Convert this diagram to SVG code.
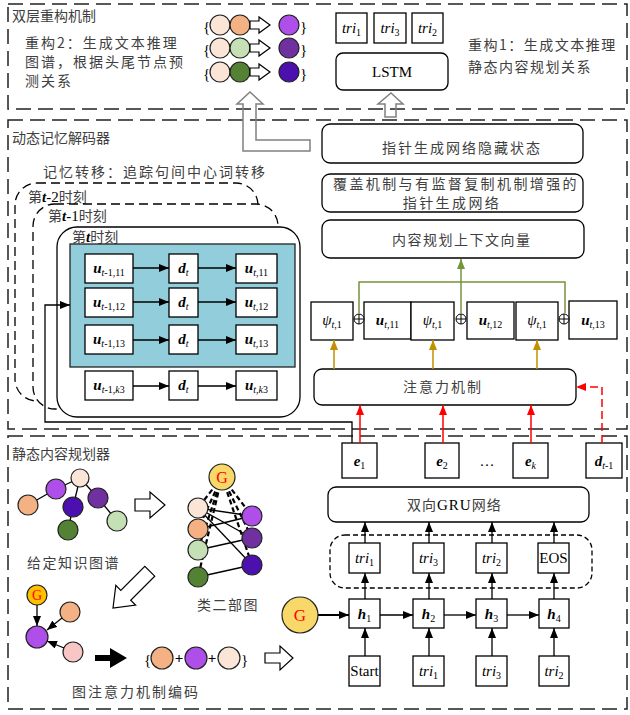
<svg xmlns="http://www.w3.org/2000/svg" width="630" height="715" viewBox="0 0 630 715">
<defs>
<style>
.sec{fill:none;stroke:#222;stroke-width:1.5;stroke-dasharray:15 7}
.box{fill:#fff;stroke:#000;stroke-width:1.3}
.cn{font-family:"Noto Sans CJK SC","Noto Sans",sans-serif;font-size:14px;fill:#404040}
.m{font-family:"Liberation Serif",serif;font-size:15px;fill:#000}
.bi{font-weight:bold;font-style:italic}
.i{font-style:italic}
.sub{font-size:10px}
.nd{stroke:#222;stroke-width:1.2}
.ln{stroke:#000;stroke-width:1.3;fill:none}
.hol{fill:#fff;stroke:#000;stroke-width:1.2}
.gray{fill:none;stroke:#808080;stroke-width:1.5}
.gold{stroke:#BF9000;stroke-width:1.5;fill:none}
.red{stroke:#FF0000;stroke-width:1.5;fill:none}
.grn{stroke:#77933C;stroke-width:1.5;fill:none}
.gtxt{font-family:"Liberation Serif",serif;fill:#FF0000}
</style>
<marker id="ab" viewBox="0 0 10 8" refX="10" refY="4" markerWidth="10" markerHeight="8" markerUnits="userSpaceOnUse" orient="auto"><path d="M0,0 L10,4 L0,8 z" fill="#000"/></marker>
<marker id="ag" viewBox="0 0 10 8" refX="10" refY="4" markerWidth="10" markerHeight="8" markerUnits="userSpaceOnUse" orient="auto"><path d="M0,0 L10,4 L0,8 z" fill="#BF9000"/></marker>
<marker id="ar" viewBox="0 0 10 8" refX="10" refY="4" markerWidth="10" markerHeight="8" markerUnits="userSpaceOnUse" orient="auto"><path d="M0,0 L10,4 L0,8 z" fill="#FF0000"/></marker>
<marker id="agr" viewBox="0 0 10 8" refX="10" refY="4" markerWidth="10" markerHeight="8" markerUnits="userSpaceOnUse" orient="auto"><path d="M0,0 L10,4 L0,8 z" fill="#77933C"/></marker>
</defs>
<rect width="630" height="715" fill="#fff"/>

<!-- sections -->
<g id="sections">
<rect class="sec" x="8" y="4" width="619" height="105"/>
<rect class="sec" x="8" y="120" width="619" height="309"/>
<rect class="sec" x="8" y="436" width="619" height="273"/>
<text class="cn" x="12" y="21" font-size="15">双层重构机制</text>
<text class="cn" x="12" y="143" font-size="15">动态记忆解码器</text>
<text class="cn" x="12" y="459" font-size="15">静态内容规划器</text>
</g>

<!-- top section -->
<g id="recon2-text">
<text class="cn" x="25" y="48" letter-spacing="2">重构2：生成文本推理</text>
<text class="cn" x="25" y="67" letter-spacing="2">图谱，根据头尾节点预</text>
<text class="cn" x="25" y="86" letter-spacing="2">测关系</text>
</g>
<g id="recon2-circles">
<text class="m" x="203" y="32" font-size="21">{</text>
<circle class="nd" cx="220" cy="25" r="10" fill="#FBE5D6"/>
<circle class="nd" cx="240" cy="25" r="10" fill="#F4B183"/>
<polygon class="hol" points="250,21 259,21 259,17 270,25 259,33 259,29 250,29"/>
<circle class="nd" cx="289" cy="25" r="10" fill="#AD4FE8"/>
<text class="m" x="300" y="32" font-size="21">}</text>
<text class="m" x="203" y="55" font-size="21">{</text>
<circle class="nd" cx="220" cy="48" r="10" fill="#FBE5D6"/>
<circle class="nd" cx="240" cy="48" r="10" fill="#C5E0B4"/>
<polygon class="hol" points="250,44 259,44 259,40 270,48 259,56 259,52 250,52"/>
<circle class="nd" cx="289" cy="48" r="10" fill="#7030A0"/>
<text class="m" x="300" y="55" font-size="21">}</text>
<text class="m" x="203" y="79" font-size="21">{</text>
<circle class="nd" cx="220" cy="72" r="10" fill="#FBE5D6"/>
<circle class="nd" cx="240" cy="72" r="10" fill="#548235"/>
<polygon class="hol" points="250,68 259,68 259,64 270,72 259,80 259,76 250,76"/>
<circle class="nd" cx="289" cy="72" r="10" fill="#4B10AE"/>
<text class="m" x="300" y="79" font-size="21">}</text>
</g>
<g id="top-tri">
<rect class="box" x="336" y="13" width="31" height="30"/>
<text class="m" x="351.5" y="33" text-anchor="middle"><tspan class="i">tri</tspan><tspan class="sub" dy="3">1</tspan></text>
<rect class="box" x="374" y="13" width="32" height="30"/>
<text class="m" x="390" y="33" text-anchor="middle"><tspan class="i">tri</tspan><tspan class="sub" dy="3">3</tspan></text>
<rect class="box" x="412" y="13" width="31" height="30"/>
<text class="m" x="427.5" y="33" text-anchor="middle"><tspan class="i">tri</tspan><tspan class="sub" dy="3">2</tspan></text>
</g>
<g id="lstm">
<rect class="box" x="336" y="53" width="112" height="37" rx="7"/>
<text class="m" x="392" y="77" text-anchor="middle" font-size="15">LSTM</text>
</g>
<g id="recon1-text">
<text class="cn" x="468" y="50" letter-spacing="1.5">重构1：生成文本推理</text>
<text class="cn" x="468" y="72" letter-spacing="1.5">静态内容规划关系</text>
</g>

<!-- middle section left -->
<g id="memory-label">
<text class="cn" x="43" y="177" letter-spacing="2">记忆转移：追踪句间中心词转移</text>
</g>
<g id="step-t2">
<rect x="15" y="183" width="243" height="218" rx="22" fill="#fff" stroke="#000" stroke-width="1.3" stroke-dasharray="9 5"/>
<text class="cn" x="28" y="202" font-size="13" fill="#000">第<tspan class="m bi" font-size="14">t</tspan><tspan class="m" font-size="14">-2</tspan>时刻</text>
</g>
<g id="step-t1">
<rect x="33" y="204" width="245" height="205" rx="22" fill="#fff" stroke="#000" stroke-width="1.3" stroke-dasharray="9 5"/>
<text class="cn" x="48" y="221" font-size="13" fill="#000">第<tspan class="m bi" font-size="14">t</tspan><tspan class="m" font-size="14">-1</tspan>时刻</text>
</g>
<g id="step-t">
<rect x="57" y="227" width="243" height="190" rx="20" fill="#fff" stroke="#000" stroke-width="1.3"/>
<text class="cn" x="72" y="242" font-size="13" fill="#000">第<tspan class="m bi" font-size="14">t</tspan>时刻</text>
<rect x="70" y="244" width="225" height="123" fill="#92CDDC" stroke="#222" stroke-width="1.3"/>
</g>
<g id="mem-rows">
<rect class="box" x="85" y="254" width="48" height="29"/>
<text class="m" x="109" y="273" text-anchor="middle"><tspan class="bi">u</tspan><tspan class="sub" dy="3"><tspan class="i">t</tspan>-1,11</tspan></text>
<rect class="box" x="169" y="254" width="29" height="29"/>
<text class="m" x="183.5" y="273" text-anchor="middle"><tspan class="bi">d</tspan><tspan class="sub i" dy="3">t</tspan></text>
<rect class="box" x="236" y="254" width="41" height="29"/>
<text class="m" x="256.5" y="273" text-anchor="middle"><tspan class="bi">u</tspan><tspan class="sub" dy="3"><tspan class="i">t</tspan>,11</tspan></text>

<rect class="box" x="85" y="288" width="48" height="29"/>
<text class="m" x="109" y="307" text-anchor="middle"><tspan class="bi">u</tspan><tspan class="sub" dy="3"><tspan class="i">t</tspan>-1,12</tspan></text>
<rect class="box" x="169" y="288" width="29" height="29"/>
<text class="m" x="183.5" y="307" text-anchor="middle"><tspan class="bi">d</tspan><tspan class="sub i" dy="3">t</tspan></text>
<rect class="box" x="236" y="288" width="41" height="29"/>
<text class="m" x="256.5" y="307" text-anchor="middle"><tspan class="bi">u</tspan><tspan class="sub" dy="3"><tspan class="i">t</tspan>,12</tspan></text>

<rect class="box" x="85" y="325" width="48" height="29"/>
<text class="m" x="109" y="344" text-anchor="middle"><tspan class="bi">u</tspan><tspan class="sub" dy="3"><tspan class="i">t</tspan>-1,13</tspan></text>
<rect class="box" x="169" y="325" width="29" height="29"/>
<text class="m" x="183.5" y="344" text-anchor="middle"><tspan class="bi">d</tspan><tspan class="sub i" dy="3">t</tspan></text>
<rect class="box" x="236" y="325" width="41" height="29"/>
<text class="m" x="256.5" y="344" text-anchor="middle"><tspan class="bi">u</tspan><tspan class="sub" dy="3"><tspan class="i">t</tspan>,13</tspan></text>

<rect class="box" x="85" y="371" width="48" height="29"/>
<text class="m" x="109" y="390" text-anchor="middle"><tspan class="bi">u</tspan><tspan class="sub" dy="3"><tspan class="i">t</tspan>-1,<tspan class="i">k</tspan>3</tspan></text>
<rect class="box" x="169" y="371" width="29" height="29"/>
<text class="m" x="183.5" y="390" text-anchor="middle"><tspan class="bi">d</tspan><tspan class="sub i" dy="3">t</tspan></text>
<rect class="box" x="236" y="371" width="41" height="29"/>
<text class="m" x="256.5" y="390" text-anchor="middle"><tspan class="bi">u</tspan><tspan class="sub" dy="3"><tspan class="i">t</tspan>,<tspan class="i">k</tspan>3</tspan></text>
</g>

<!-- middle section right -->
<g id="ptr-hidden">
<rect class="box" x="322" y="124" width="261" height="39" rx="8"/>
<text class="cn" x="382" y="153" letter-spacing="2">指针生成网络隐藏状态</text>
</g>
<g id="ptr-net">
<rect class="box" x="322" y="174" width="261" height="38" rx="8"/>
<text class="cn" x="333" y="189" font-size="13.5" letter-spacing="2.4">覆盖机制与有监督复制机制增强的</text>
<text class="cn" x="452" y="208" font-size="13.5" letter-spacing="2.4" text-anchor="middle">指针生成网络</text>
</g>
<g id="ctx-vec">
<rect class="box" x="322" y="220" width="262" height="38" rx="8"/>
<text class="cn" x="392" y="245" letter-spacing="1.5">内容规划上下文向量</text>
</g>
<g id="psi-row">
<rect class="box" x="311" y="302" width="42" height="38"/>
<text class="m" x="332" y="325" text-anchor="middle"><tspan class="i">ψ</tspan><tspan class="sub" dy="3"><tspan class="i">t</tspan>,1</tspan></text>
<rect class="box" x="364" y="302" width="47" height="37"/>
<text class="m" x="387.5" y="325" text-anchor="middle"><tspan class="bi">u</tspan><tspan class="sub" dy="3"><tspan class="i">t</tspan>,11</tspan></text>
<rect class="box" x="411" y="302" width="43" height="38"/>
<text class="m" x="432.5" y="325" text-anchor="middle"><tspan class="i">ψ</tspan><tspan class="sub" dy="3"><tspan class="i">t</tspan>,1</tspan></text>
<rect class="box" x="467" y="302" width="47" height="37"/>
<text class="m" x="490.5" y="325" text-anchor="middle"><tspan class="bi">u</tspan><tspan class="sub" dy="3"><tspan class="i">t</tspan>,12</tspan></text>
<rect class="box" x="516" y="302" width="42" height="38"/>
<text class="m" x="537" y="325" text-anchor="middle"><tspan class="i">ψ</tspan><tspan class="sub" dy="3"><tspan class="i">t</tspan>,1</tspan></text>
<rect class="box" x="569" y="301" width="48" height="38"/>
<text class="m" x="593" y="325" text-anchor="middle"><tspan class="bi">u</tspan><tspan class="sub" dy="3"><tspan class="i">t</tspan>,13</tspan></text>
</g>
<g id="attn">
<rect class="box" x="314" y="369" width="262" height="36" rx="8"/>
<text class="cn" x="403" y="392" letter-spacing="2">注意力机制</text>
</g>
<g id="e-boxes">
<rect class="box" x="342" y="443" width="35" height="35"/>
<text class="m" x="359.5" y="466" text-anchor="middle"><tspan class="bi">e</tspan><tspan class="sub" dy="3">1</tspan></text>
<rect class="box" x="425" y="443" width="34" height="35"/>
<text class="m" x="442" y="466" text-anchor="middle"><tspan class="bi">e</tspan><tspan class="sub" dy="3">2</tspan></text>
<text class="m" x="487" y="466" text-anchor="middle" font-size="13">…</text>
<rect class="box" x="513" y="443" width="35" height="35"/>
<text class="m" x="530.5" y="466" text-anchor="middle"><tspan class="bi">e</tspan><tspan class="sub i" dy="3">k</tspan></text>
<rect class="box" x="586" y="443" width="36" height="35"/>
<text class="m" x="604" y="466" text-anchor="middle"><tspan class="bi">d</tspan><tspan class="sub" dy="3"><tspan class="i">t</tspan>-1</tspan></text>
</g>

<!-- bottom section -->
<g id="kg">
<line class="ln" x1="80" y1="478" x2="56" y2="489"/>
<line class="ln" x1="80" y1="478" x2="73" y2="507"/>
<line class="ln" x1="80" y1="478" x2="98" y2="498"/>
<line class="ln" x1="56" y1="489" x2="28" y2="505"/>
<line class="ln" x1="73" y1="507" x2="68" y2="530"/>
<line class="ln" x1="98" y1="498" x2="117" y2="521"/>
<circle class="nd" cx="80" cy="478" r="9" fill="#FBE5D6"/>
<circle class="nd" cx="56" cy="489" r="10" fill="#AD4FE8"/>
<circle class="nd" cx="28" cy="505" r="10" fill="#F4B183"/>
<circle class="nd" cx="73" cy="507" r="10" fill="#4B10AE"/>
<circle class="nd" cx="98" cy="498" r="10" fill="#7030A0"/>
<circle class="nd" cx="117" cy="521" r="10" fill="#C5E0B4"/>
<circle class="nd" cx="68" cy="530" r="10" fill="#548235"/>
<text class="cn" x="27" y="568" letter-spacing="1.5">给定知识图谱</text>
</g>
<g id="bipartite">
<g stroke="#000" stroke-width="2.2" stroke-dasharray="5 3">
<line x1="222" y1="477" x2="198" y2="508"/>
<line x1="222" y1="477" x2="198" y2="529"/>
<line x1="222" y1="477" x2="198" y2="550"/>
<line x1="222" y1="477" x2="198" y2="577"/>
<line x1="222" y1="477" x2="252" y2="516"/>
<line x1="222" y1="477" x2="252" y2="538"/>
<line x1="222" y1="477" x2="252" y2="565"/>
</g>
<line class="ln" x1="198" y1="508" x2="252" y2="516" stroke-width="1"/>
<line class="ln" x1="198" y1="508" x2="252" y2="538" stroke-width="1"/>
<line class="ln" x1="198" y1="508" x2="252" y2="565" stroke-width="1"/>
<line class="ln" x1="198" y1="529" x2="252" y2="516" stroke-width="1"/>
<line class="ln" x1="198" y1="550" x2="252" y2="538" stroke-width="1"/>
<line class="ln" x1="198" y1="577" x2="252" y2="565" stroke-width="1"/>
<circle class="nd" cx="198" cy="508" r="10" fill="#FBE5D6"/>
<circle class="nd" cx="198" cy="529" r="10" fill="#F4B183"/>
<circle class="nd" cx="198" cy="550" r="10" fill="#C5E0B4"/>
<circle class="nd" cx="198" cy="577" r="10" fill="#548235"/>
<circle class="nd" cx="252" cy="516" r="10" fill="#AD4FE8"/>
<circle class="nd" cx="252" cy="538" r="10" fill="#7030A0"/>
<circle class="nd" cx="252" cy="565" r="10" fill="#4B10AE"/>
<circle class="nd" cx="222" cy="477" r="13" fill="#F9D86A"/>
<text class="gtxt" x="222" y="483" text-anchor="middle" font-size="16">G</text>
<text class="cn" x="197" y="610" letter-spacing="1.5">类二部图</text>
</g>
<g id="gat">
<circle class="nd" cx="37" cy="595" r="10" fill="#FFC000"/>
<text class="gtxt" x="37" y="600" text-anchor="middle" font-size="14">G</text>
<circle class="nd" cx="70" cy="612" r="10" fill="#F4B183"/>
<circle class="nd" cx="37" cy="637" r="11" fill="#AD4FE8"/>
<circle class="nd" cx="73" cy="652" r="10" fill="#F9C6C6"/>
<text class="m" x="144" y="665" font-size="21">{</text>
<circle class="nd" cx="162" cy="658" r="11" fill="#F4B183"/>
<text class="m" x="179" y="663" font-size="15" font-weight="bold" text-anchor="middle">+</text>
<circle class="nd" cx="196" cy="658" r="11" fill="#AD4FE8"/>
<text class="m" x="212" y="663" font-size="15" font-weight="bold" text-anchor="middle">+</text>
<circle class="nd" cx="229" cy="658" r="11" fill="#FBE5D6"/>
<text class="m" x="241" y="665" font-size="21">}</text>
<text class="cn" x="72" y="697" letter-spacing="2">图注意力机制编码</text>
</g>
<g id="gru">
<rect class="box" x="328" y="487" width="261" height="35" rx="8"/>
<text class="cn" x="407" y="510" letter-spacing="1">双向<tspan class="m" font-size="15">GRU</tspan>网络</text>
<rect x="330" y="535" width="262" height="53" rx="15" fill="none" stroke="#000" stroke-width="1.3" stroke-dasharray="5 3"/>
</g>
<g id="tri-seq">
<rect class="box" x="349" y="543" width="31" height="30"/>
<text class="m" x="364.5" y="563" text-anchor="middle"><tspan class="i">tri</tspan><tspan class="sub" dy="3">1</tspan></text>
<rect class="box" x="413" y="543" width="31" height="30"/>
<text class="m" x="428.5" y="563" text-anchor="middle"><tspan class="i">tri</tspan><tspan class="sub" dy="3">3</tspan></text>
<rect class="box" x="476" y="543" width="31" height="30"/>
<text class="m" x="491.5" y="563" text-anchor="middle"><tspan class="i">tri</tspan><tspan class="sub" dy="3">2</tspan></text>
<rect class="box" x="538" y="543" width="31" height="30"/>
<text class="m" x="553.5" y="563" text-anchor="middle" font-size="14">EOS</text>
</g>
<g id="h-seq">
<circle class="nd" cx="300" cy="615" r="18" fill="#F9D86A"/>
<text class="gtxt" x="300" y="621" text-anchor="middle" font-size="17">G</text>
<rect class="box" x="349" y="599" width="31" height="29"/>
<text class="m" x="364.5" y="619" text-anchor="middle"><tspan class="bi">h</tspan><tspan class="sub" dy="3">1</tspan></text>
<rect class="box" x="413" y="599" width="31" height="29"/>
<text class="m" x="428.5" y="619" text-anchor="middle"><tspan class="bi">h</tspan><tspan class="sub" dy="3">2</tspan></text>
<rect class="box" x="476" y="599" width="31" height="29"/>
<text class="m" x="491.5" y="619" text-anchor="middle"><tspan class="bi">h</tspan><tspan class="sub" dy="3">3</tspan></text>
<rect class="box" x="539" y="599" width="30" height="29"/>
<text class="m" x="554" y="619" text-anchor="middle"><tspan class="bi">h</tspan><tspan class="sub" dy="3">4</tspan></text>
</g>
<g id="input-seq">
<rect class="box" x="349" y="656" width="31" height="30"/>
<text class="m" x="364.5" y="676" text-anchor="middle" font-size="14">Start</text>
<rect class="box" x="413" y="656" width="31" height="30"/>
<text class="m" x="428.5" y="676" text-anchor="middle"><tspan class="i">tri</tspan><tspan class="sub" dy="3">1</tspan></text>
<rect class="box" x="476" y="656" width="31" height="30"/>
<text class="m" x="491.5" y="676" text-anchor="middle"><tspan class="i">tri</tspan><tspan class="sub" dy="3">3</tspan></text>
<rect class="box" x="539" y="656" width="30" height="30"/>
<text class="m" x="554" y="676" text-anchor="middle"><tspan class="i">tri</tspan><tspan class="sub" dy="3">2</tspan></text>
</g>

<!-- connectors -->
<g id="connectors">
<path class="gray" d="M250,92 L263,104 L256,104 L256,140 L310,140 L310,151 L243,151 L243,104 L237,104 Z"/>
<path class="gray" d="M391,93 L403,104 L396,104 L396,117 L385,117 L385,104 L378,104 Z"/>
<g class="ln" marker-end="url(#ab)">
<line x1="133" y1="268" x2="169" y2="268"/>
<line x1="198" y1="268" x2="236" y2="268"/>
<line x1="133" y1="302" x2="169" y2="302"/>
<line x1="198" y1="302" x2="236" y2="302"/>
<line x1="133" y1="340" x2="169" y2="340"/>
<line x1="198" y1="340" x2="236" y2="340"/>
<line x1="133" y1="386" x2="169" y2="386"/>
<line x1="198" y1="386" x2="236" y2="386"/>
<path d="M352,443 V422 H45 V305 H70"/>
<line x1="365" y1="543" x2="365" y2="522"/>
<line x1="429" y1="543" x2="429" y2="522"/>
<line x1="492" y1="543" x2="492" y2="522"/>
<line x1="554" y1="543" x2="554" y2="522"/>
<line x1="365" y1="599" x2="365" y2="573"/>
<line x1="429" y1="599" x2="429" y2="573"/>
<line x1="492" y1="599" x2="492" y2="573"/>
<line x1="554" y1="599" x2="554" y2="573"/>
<line x1="365" y1="656" x2="365" y2="628"/>
<line x1="429" y1="656" x2="429" y2="628"/>
<line x1="492" y1="656" x2="492" y2="628"/>
<line x1="554" y1="656" x2="554" y2="628"/>
<line x1="318" y1="615" x2="349" y2="615" stroke-width="2"/>
<line x1="380" y1="615" x2="413" y2="615"/>
<line x1="444" y1="615" x2="476" y2="615"/>
<line x1="507" y1="615" x2="539" y2="615"/>
<line x1="37" y1="605" x2="37" y2="626"/>
<line x1="62" y1="618" x2="47" y2="630"/>
<line x1="64" y1="648" x2="47" y2="641"/>
</g>
<g class="grn">
<path d="M359,313 V282 H565 V313"/>
<line x1="461" y1="313" x2="461" y2="282"/>
<line x1="461" y1="282" x2="461" y2="259" marker-end="url(#agr)"/>
</g>
<g stroke="#000" stroke-width="1" fill="#fff">
<circle cx="359" cy="319" r="5"/><path d="M354,319 H364 M359,314 V324"/>
<circle cx="461" cy="319" r="5"/><path d="M456,319 H466 M461,314 V324"/>
<circle cx="564" cy="319" r="5"/><path d="M559,319 H569 M564,314 V324"/>
</g>
<g class="gold" marker-end="url(#ag)">
<line x1="334" y1="369" x2="334" y2="340"/>
<line x1="433" y1="369" x2="433" y2="340"/>
<line x1="537" y1="369" x2="537" y2="340"/>
</g>
<g class="red" marker-end="url(#ar)">
<line x1="360" y1="443" x2="360" y2="405"/>
<line x1="443" y1="443" x2="443" y2="405"/>
<line x1="531" y1="443" x2="531" y2="405"/>
<path d="M602,443 V387 H576" stroke-dasharray="8 4"/>
</g>
<polygon class="hol" points="135,499 150,499 150,492 165,505 150,518 150,511 135,511"/>
<polygon class="hol" points="0,0 -18,14 -18,7 -52,7 -52,-7 -18,-7 -18,-14" transform="translate(113,608) rotate(135)"/>
<polygon points="95,655 110,655 110,648 127,658 110,668 110,661 95,661" fill="#000"/>
<polygon class="hol" points="265,653 280,653 280,646 293,658 280,670 280,663 265,663"/>
</g>
</svg>
